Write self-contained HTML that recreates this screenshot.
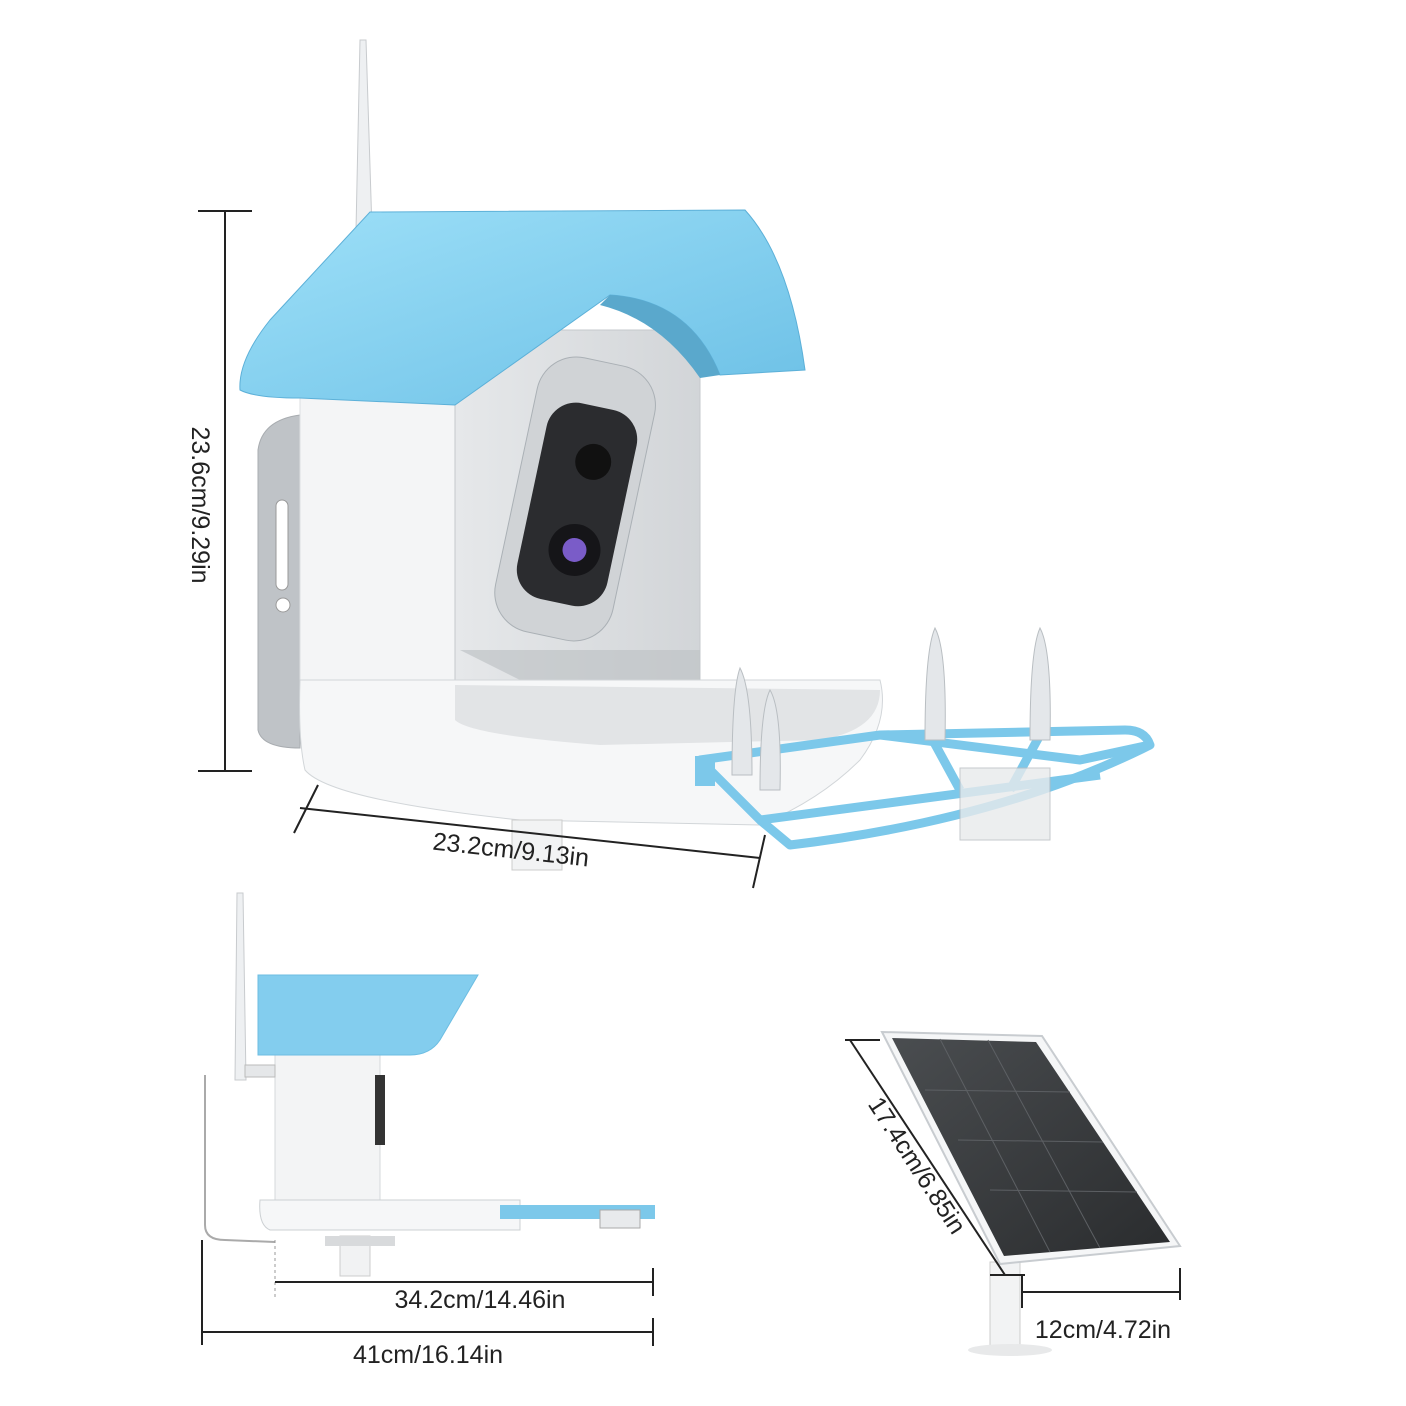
<!DOCTYPE html>
<html><head><meta charset="utf-8"><style>
html,body{margin:0;padding:0;background:#fff;}
svg{display:block}
text{font-family:"Liberation Sans",sans-serif;font-size:25px;fill:#222}
</style></head><body>
<svg width="1406" height="1406" viewBox="0 0 1406 1406" xmlns="http://www.w3.org/2000/svg">
<defs>
<linearGradient id="roof" x1="0" y1="0" x2="1" y2="1">
<stop offset="0" stop-color="#9ee0f8"/><stop offset="1" stop-color="#6cc0e6"/></linearGradient>
<linearGradient id="glass" x1="0" y1="0" x2="1" y2="0">
<stop offset="0" stop-color="#e6e8ea"/><stop offset="1" stop-color="#d2d5d8"/></linearGradient>
<linearGradient id="panel" x1="0" y1="0" x2="1" y2="1">
<stop offset="0" stop-color="#4a4d50"/><stop offset="1" stop-color="#2a2c2e"/></linearGradient>
</defs>
<!-- vertical dimension -->
<g stroke="#222" stroke-width="2">
<line x1="225" y1="211" x2="225" y2="771"/>
<line x1="198" y1="211" x2="252" y2="211"/>
<line x1="198" y1="771" x2="252" y2="771"/>
</g>
<text transform="translate(192,505) rotate(90)" text-anchor="middle">23.6cm/9.29in</text>
<!-- antenna -->
<path d="M360 40 L366 40 L372 230 L356 230 Z" fill="#eef0f2" stroke="#c8cbce"/>
<!-- back plate -->
<path d="M300 415 Q262 420 258 450 L258 730 Q262 748 300 748 Z" fill="#bfc3c7" stroke="#a8acb0"/>
<rect x="276" y="500" width="12" height="90" rx="6" fill="#fff" stroke="#999"/>
<circle cx="283" cy="605" r="7" fill="#fff" stroke="#999"/>
<!-- body -->
<rect x="300" y="390" width="158" height="300" fill="#f4f5f6" stroke="#dcdfe2"/>
<rect x="455" y="330" width="245" height="395" fill="url(#glass)" stroke="#c5c9cc"/>
<!-- camera -->
<g transform="rotate(12 580 500)">
<rect x="515" y="360" width="120" height="280" rx="40" fill="#d0d3d6" stroke="#aab0b5"/>
<rect x="532" y="405" width="92" height="200" rx="30" fill="#2b2c2f"/>
<circle cx="585" cy="460" r="18" fill="#111"/>
<circle cx="585" cy="550" r="26" fill="#151518"/>
<circle cx="585" cy="550" r="12" fill="#7a5cc8"/>
</g>
<path d="M460 650 L700 650 L700 720 L600 720 Z" fill="#bfc3c6" opacity="0.7"/>
<!-- roof -->
<path d="M240 390 Q238 360 270 320 L370 212 L745 210 Q790 260 805 370 L720 375 Q690 300 610 295 L455 405 L300 398 Q255 398 240 390 Z" fill="url(#roof)" stroke="#5cb0d8"/>
<path d="M610 295 Q690 300 720 375 L700 378 Q660 320 600 305 Z" fill="#5aa8cc"/>
<!-- tray -->
<path d="M300 680 L880 680 Q890 720 860 760 Q820 800 760 825 L520 820 Q330 800 305 770 Q298 740 300 680 Z" fill="#f6f7f8" stroke="#d2d6d9"/>
<path d="M455 685 L880 690 Q880 730 820 740 L600 745 Q470 735 455 720 Z" fill="#e2e4e6"/>
<rect x="512" y="820" width="50" height="50" fill="#f2f3f4" stroke="#ccc"/>
<!-- perch frame -->
<g fill="none" stroke="#7cc8ea" stroke-width="9" stroke-linejoin="round">
<path d="M700 760 L760 820 L790 845 Q1000 820 1150 745 Q1145 730 1125 730 L880 735 L700 760 Z"/>
<path d="M760 820 L1100 775"/>
<path d="M880 735 L1080 760 L1150 745"/>
<path d="M930 735 L960 790 M1040 735 L1010 790"/>
</g>
<rect x="695" y="756" width="20" height="30" fill="#7cc8ea"/>
<rect x="960" y="768" width="90" height="72" fill="#e8eaec" stroke="#b8bcc0" opacity="0.8"/>
<g fill="#e4e7ea" stroke="#b9bec2">
<path d="M740 668 Q752 690 752 775 L732 775 Q732 690 740 668 Z"/>
<path d="M770 690 Q782 710 780 790 L760 790 Q760 710 770 690 Z"/>
<path d="M935 628 Q947 650 945 740 L925 740 Q925 650 935 628 Z"/>
<path d="M1040 628 Q1052 650 1050 740 L1030 740 Q1030 650 1040 628 Z"/>
</g>
<!-- slanted dimension -->
<g stroke="#222" stroke-width="2">
<line x1="300" y1="808" x2="760" y2="858"/>
<line x1="318" y1="785" x2="294" y2="833"/>
<line x1="765" y1="835" x2="753" y2="888"/>
</g>
<text transform="translate(510,858) rotate(6.2)" text-anchor="middle">23.2cm/9.13in</text>
<!-- side view -->
<path d="M237 893 L243 893 L246 1080 L235 1080 Z" fill="#eef0f2" stroke="#c8cbce"/>
<path d="M205 1075 L205 1225 Q205 1240 225 1240 L275 1242" fill="none" stroke="#aaa" stroke-width="2"/>
<rect x="275" y="1055" width="105" height="150" fill="#f3f4f5" stroke="#d5d8db"/>
<rect x="375" y="1075" width="10" height="70" fill="#333"/>
<path d="M258 975 L478 975 L440 1040 Q430 1055 410 1055 L258 1055 Z" fill="#83cdee" stroke="#6cbde2"/>
<rect x="245" y="1065" width="30" height="12" fill="#e5e7e9" stroke="#bbb"/>
<path d="M260 1200 L520 1200 L520 1230 L270 1230 Q258 1225 260 1200 Z" fill="#f6f7f8" stroke="#ccd0d3"/>
<rect x="500" y="1205" width="155" height="14" fill="#7cc8ea"/>
<rect x="600" y="1210" width="40" height="18" fill="#e8eaec" stroke="#aaa"/>
<rect x="340" y="1236" width="30" height="40" fill="#f1f2f3" stroke="#ccc"/>
<rect x="325" y="1236" width="70" height="10" fill="#d8dadc"/>
<line x1="275" y1="1240" x2="275" y2="1298" stroke="#999" stroke-dasharray="3,3"/>
<line x1="202" y1="1240" x2="202" y2="1345" stroke="#222" stroke-width="2"/>
<g stroke="#222" stroke-width="2">
<line x1="275" y1="1282" x2="653" y2="1282"/>
<line x1="653" y1="1268" x2="653" y2="1296"/>
<line x1="202" y1="1332" x2="653" y2="1332"/>
<line x1="653" y1="1318" x2="653" y2="1346"/>
</g>
<text x="480" y="1308" text-anchor="middle">34.2cm/14.46in</text>
<text x="428" y="1363" text-anchor="middle">41cm/16.14in</text>
<!-- solar panel -->
<rect x="990" y="1262" width="30" height="85" fill="#f2f3f4" stroke="#ccc"/>
<ellipse cx="1010" cy="1350" rx="42" ry="6" fill="#e8e9ea"/>
<path d="M882 1032 L1042 1036 L1180 1246 L1000 1264 Z" fill="#f5f6f7" stroke="#c8ccd0" stroke-width="2"/>
<path d="M892 1038 L1036 1042 L1170 1242 L1004 1256 Z" fill="url(#panel)"/>
<g stroke="#5d6064" stroke-width="1">
<line x1="925" y1="1090" x2="1070" y2="1092"/>
<line x1="958" y1="1140" x2="1103" y2="1142"/>
<line x1="990" y1="1190" x2="1137" y2="1192"/>
<line x1="940" y1="1039" x2="1050" y2="1252"/>
<line x1="988" y1="1040" x2="1100" y2="1248"/>
</g>
<g stroke="#222" stroke-width="2">
<line x1="850" y1="1040" x2="1005" y2="1275"/>
<line x1="845" y1="1040" x2="880" y2="1040"/>
<line x1="990" y1="1275" x2="1025" y2="1275"/>
<line x1="1022" y1="1292" x2="1180" y2="1292"/>
<line x1="1022" y1="1275" x2="1022" y2="1308"/>
<line x1="1180" y1="1268" x2="1180" y2="1300"/>
</g>
<text transform="translate(910,1170) rotate(57)" text-anchor="middle">17.4cm/6.85in</text>
<text x="1103" y="1338" text-anchor="middle">12cm/4.72in</text>
</svg>
</body></html>
